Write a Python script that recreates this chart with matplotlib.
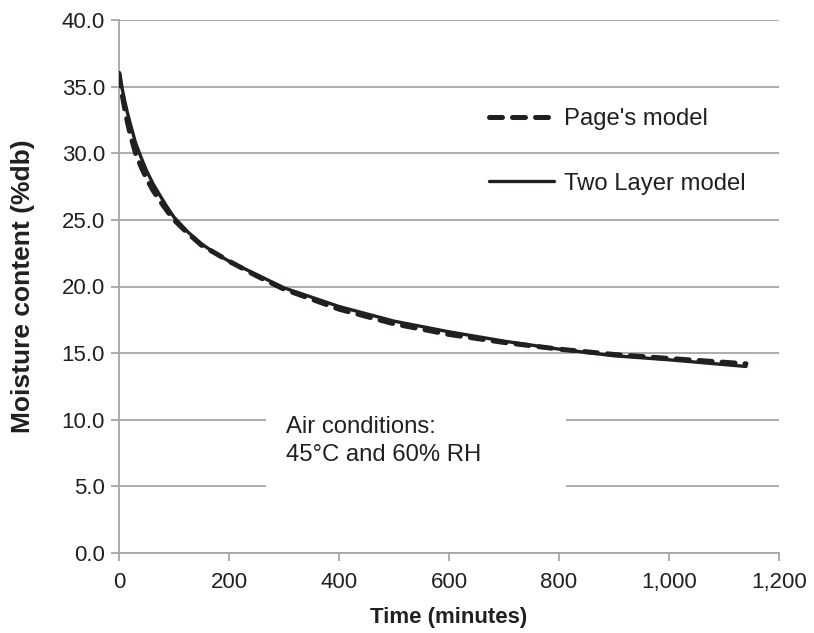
import matplotlib
matplotlib.use("Agg")
import matplotlib.pyplot as plt
from matplotlib.patches import Rectangle
from matplotlib.ticker import FuncFormatter, MultipleLocator

plt.rcParams['font.family'] = ['Liberation Sans', 'DejaVu Sans']

# Data
time_page = [0, 5, 10, 15, 20, 30, 40, 50, 62, 75, 87, 100, 125, 150, 175, 200, 250, 300,
             400, 500, 600, 700, 800, 900, 1000, 1140]
mc_page = [36.0, 34.6, 33.4, 32.4, 31.5, 30.0, 29.0, 28.1, 27.2, 26.4, 25.7, 25.0, 24.0, 23.1,
           22.5, 21.9, 20.8, 19.8, 18.3, 17.2, 16.4, 15.8, 15.3, 14.9, 14.6, 14.2]

time_two = [0, 5, 10, 15, 20, 30, 40, 50, 62, 75, 87, 100, 125, 150, 175, 200, 250, 300,
            400, 500, 600, 700, 800, 900, 1000, 1140]
mc_two = [36.0, 35.0, 34.0, 33.1, 32.3, 30.8, 29.7, 28.7, 27.7, 26.8, 26.0, 25.2, 24.1, 23.2,
          22.5, 21.9, 20.9, 19.9, 18.5, 17.4, 16.6, 15.9, 15.3, 14.8, 14.5, 14.0]

series_labels = ["Page's model", "Two Layer model"]
annotation = "Air conditions:\n45°C and 60% RH"
x_label = "Time (minutes)"
y_label = "Moisture content (%db)"

TXT = '#231f20'
GRID = '#a6a6a6'
FS = 16
FS_BIG = 17.2

fig = plt.figure(figsize=(8.14, 6.33), dpi=100)
ax = fig.add_axes([119/814, (633-553)/633, 660/814, 533/633])

ax.plot(time_page, mc_page, color=TXT, lw=3.6, dashes=(2.6, 2.0),
        dash_capstyle='round', solid_capstyle='round', label=series_labels[0], zorder=3)
ax.plot(time_two, mc_two, color=TXT, lw=2.4, solid_capstyle='round',
        label=series_labels[1], zorder=4)

ax.set_xlim(0, 1200)
ax.set_ylim(0, 40)
ax.xaxis.set_major_locator(MultipleLocator(200))
ax.yaxis.set_major_locator(MultipleLocator(5))
ax.xaxis.set_major_formatter(FuncFormatter(lambda v, p: f"{v:,.0f}"))
ax.yaxis.set_major_formatter(FuncFormatter(lambda v, p: f"{v:.1f}"))

ax.grid(axis='y', color=GRID, lw=1.3, zorder=0)
ax.set_axisbelow(True)
for s in ['top', 'right']:
    ax.spines[s].set_visible(False)
for s in ['left', 'bottom']:
    ax.spines[s].set_color(GRID)
    ax.spines[s].set_linewidth(1.3)
ax.tick_params(axis='both', colors=GRID, labelcolor=TXT, labelsize=FS,
               length=6, width=1.3, direction='out')
ax.tick_params(axis='x', pad=8)
ax.tick_params(axis='y', pad=4)

ax.set_xlabel(x_label, fontsize=FS, fontweight='bold', color=TXT, labelpad=10)
ax.set_ylabel(y_label, fontsize=19, fontweight='bold', color=TXT)
ax.yaxis.set_label_coords(-0.128, 0.5)

# white annotation box covering gridlines
ax.add_patch(Rectangle((0.2227, 0.08), 0.4545, 0.215, transform=ax.transAxes,
                       facecolor='white', edgecolor='none', zorder=1.5))
ax.text(0.253, 0.257, annotation, transform=ax.transAxes, fontsize=FS_BIG,
        color=TXT, va='top', ha='left', linespacing=1.35, zorder=5)

leg = ax.legend(loc='upper left', bbox_to_anchor=(0.560, 0.834), frameon=False,
                fontsize=FS_BIG, handlelength=2.75, handletextpad=0.42,
                labelspacing=1.77, borderpad=0, borderaxespad=0)
for t in leg.get_texts():
    t.set_color(TXT)

fig.savefig('out.png', dpi=100)
